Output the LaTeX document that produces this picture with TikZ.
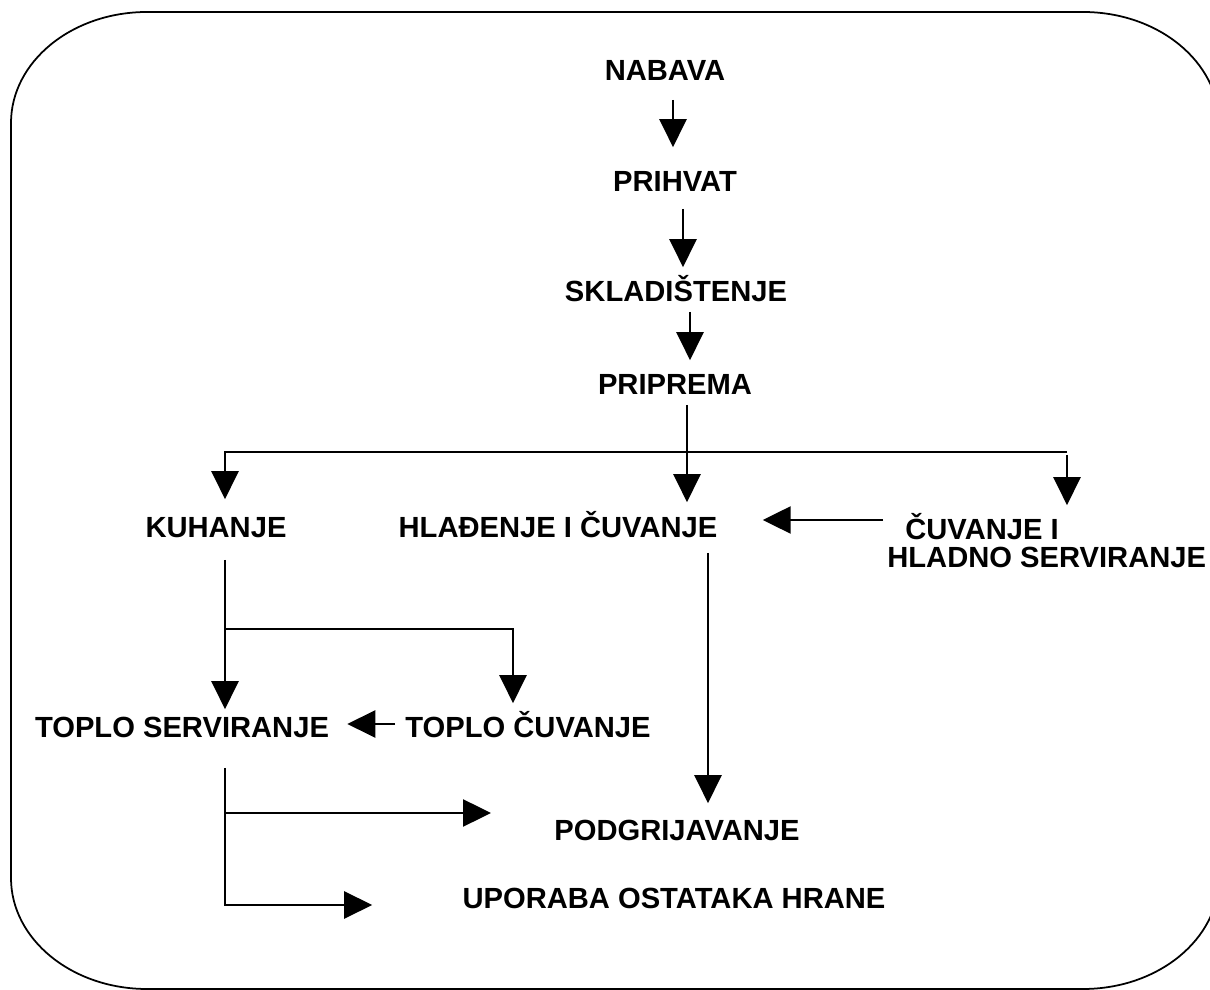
\documentclass[tikz,border=0pt]{standalone}
\usepackage{fontspec}
\setmainfont{Liberation Sans}
\usetikzlibrary{arrows.meta,calc}

\begin{document}
\begin{tikzpicture}[x=0.02cm,y=0.02cm,
  lbl/.style={font=\bfseries\fontsize{16.6}{16.5}\selectfont, inner sep=0pt, text height=11.9pt, text depth=0pt},
  flow/.style={line width=1.35pt, -{Triangle[length=0.56cm,width=0.54cm]}},
  frame/.style={line width=1pt}]
\useasboundingbox (0,0) rectangle (1210,990);
% frame with round corners
\draw[frame] (147,978) -- (1083,978)
  arc[start angle=90,end angle=0,x radius=136,y radius=111] -- (1219,112)
  arc[start angle=0,end angle=-90,x radius=136,y radius=111] -- (147,1)
  arc[start angle=270,end angle=180,x radius=136,y radius=111] -- (11,867)
  arc[start angle=180,end angle=90,x radius=136,y radius=111] -- cycle;
% steps
\node[lbl] (nabava) at (665,920) {NABAVA};
\node[lbl] (prihvat) at (675,809) {PRIHVAT};
\node[lbl] (skladistenje) at (676,699) {SKLADIŠTENJE};
\node[lbl] (priprema) at (675,606) {PRIPREMA};
\node[lbl] (kuhanje) at (216,463) {KUHANJE};
\node[lbl] (hladjenje) at (558,463) {HLAĐENJE I ČUVANJE};
\node[lbl, text height={}, align=left, anchor=base west] (cuvanje) at (887,422)
  {\hspace*{0.36cm}ČUVANJE I\\HLADNO SERVIRANJE};
\node[lbl] (toploserv) at (182,263) {TOPLO SERVIRANJE};
\node[lbl] (toplocuv) at (528,263) {TOPLO ČUVANJE};
\node[lbl] (podgrij) at (677,160) {PODGRIJAVANJE};
\node[lbl] (uporaba) at (674,92) {UPORABA OSTATAKA HRANE};
% branch points
\coordinate (splitL) at (225,538);
\coordinate (splitR) at (1067,538);
\coordinate (split2) at (225,361);
\coordinate (split3) at (225,177);
% arrows
\draw[flow] ($(nabava.south)+(8,-19)$) -- ($(prihvat.north)+(-2,23)$);
\draw[flow] ($(prihvat.south)+(8,-17)$) -- ($(skladistenje.north)+(7,13)$);
\draw[flow] ($(skladistenje.south)+(14,-10)$) -- ($(priprema.north)+(15,13)$);
\draw[flow] ($(priprema.south)+(12,-10)$) -- ($(hladjenje.north)+(129,14)$);
\draw[flow] (splitR) -- (splitL) -- ($(kuhanje.north)+(9,17)$);
\draw[flow] ($(splitR)+(0,-3)$) -- ($(splitR |- hladjenje.north)+(0,11)$);
\draw[flow] ($(hladjenje.east -| cuvanje.west)+(-4,7)$) -- ($(hladjenje.east)+(45,7)$);
\draw[flow] ($(kuhanje.south)+(9,-22)$) -- ($(toploserv.north)+(43,7)$);
\draw[flow] (split2) -| ($(toplocuv.north)+(-15,13)$);
\draw[flow] ($(toplocuv.west)+(-10,3)$) -- ($(toploserv.east)+(18,3)$);
\draw[flow] ($(hladjenje.south)+(150,-15)$) -- ($(podgrij.north)+(31,16)$);
\draw[flow] ($(toploserv.south)+(43,-30)$) |- ($(uporaba.west)+(-90,-7)$);
\draw[flow] (split3) -- ($(podgrij.west)+(-63,17)$);
\end{tikzpicture}
\end{document}
